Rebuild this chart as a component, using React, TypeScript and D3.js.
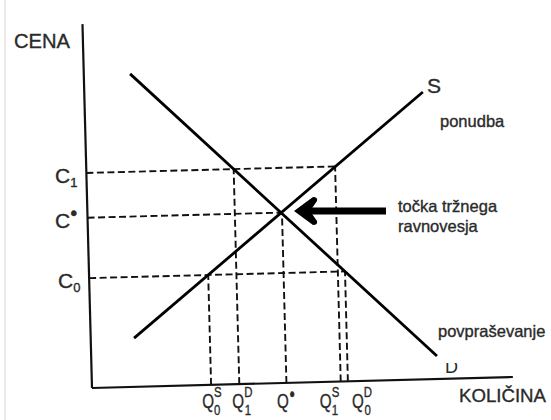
import React from "react";
import * as d3 from "d3";

// ---- data ----
const demandQ = [1.1, 8.21];
const demandP = [8.6, 0.63];
const supplyQ = [1.03, 8.04];
const supplyP = [1.34, 7.89];

const priceNames = ["C1", "C*", "C0"];
const priceLevels = [5.91, 4.68, 3.02];
const priceReach = [5.91, 4.62, 6.08]; // quantity where each dashed price line ends

const qtySup = ["S", "D", "•", "S", "D"];
const qtySub = ["0", "1", "", "1", "0"];
const qtyLevels = [2.83, 3.5, 4.62, 5.91, 6.08];
const qtyPrice = [3.02, 5.91, 4.68, 5.91, 3.02]; // price each dashed quantity line reaches

// ---- layout ----
const W = 551;
const H = 420;
const OX = 92;
const OY = 388;
const ROT = -1.5;
const qLabelDx = [-9, -7, -9.5, -21, 4];
const cLabelX = [55, 55, 58];

export default function App() {
  const x = d3.scaleLinear().domain([0, 10]).range([0, 421]);
  const y = d3.scaleLinear().domain([0, 10]).range([0, -364]);
  const line = d3
    .line<[number, number]>()
    .x((d) => x(d[0]))
    .y((d) => y(d[1]));
  const demand = demandQ.map((q, i) => [q, demandP[i]] as [number, number]);
  const supply = supplyQ.map((q, i) => [q, supplyP[i]] as [number, number]);
  const font = "'Liberation Sans', Arial, sans-serif";
  const txt = "#2a2a2a";
  const dash = "7 3.5";
  const thick = { stroke: txt, strokeWidth: 0.35 };

  return (
    <svg
      width={W}
      height={H}
      style={{ position: "absolute", left: 0, top: 0, background: "#fff" }}
      fontFamily={font}
    >
      <rect x={0} y={0} width={W} height={H} fill="#fff" />
      <line x1={5} y1={0} x2={5} y2={H} stroke="#ddd" strokeWidth={1.2} />

      <g transform={`translate(${OX},${OY}) rotate(${ROT})`}>
        {/* dashed guides */}
        {priceLevels.map((p, i) => (
          <line
            key={"h" + i}
            x1={x(0)}
            x2={x(priceReach[i])}
            y1={y(p)}
            y2={y(p)}
            stroke="#111"
            strokeWidth={1.9}
            strokeDasharray={dash}
          />
        ))}
        {qtyLevels.map((q, i) => (
          <line
            key={"v" + i}
            x1={x(q)}
            x2={x(q)}
            y1={y(0)}
            y2={y(qtyPrice[i])}
            stroke="#111"
            strokeWidth={1.9}
            strokeDasharray={dash}
          />
        ))}
        {/* axes */}
        <line x1={x(0)} y1={y(0)} x2={x(0)} y2={y(10)} stroke="#111" strokeWidth={2.2} />
        <line x1={x(0)} y1={y(0)} x2={x(10)} y2={y(0)} stroke="#111" strokeWidth={2.2} />
        {/* curves */}
        <path d={line(demand) || ""} fill="none" stroke="#000" strokeWidth={2.8} />
        <path d={line(supply) || ""} fill="none" stroke="#000" strokeWidth={2.8} />
      </g>

      {/* price labels */}
      {priceNames.map((n, i) => {
        const yy = OY + y(priceLevels[i]) + 10;
        const xx = cLabelX[i];
        const suffix = n.slice(1);
        return (
          <text key={"c" + i} x={xx} y={yy} fontSize={21} fill={txt} {...thick}>
            C
            {suffix === "*" ? (
              <tspan dy={-8} fontSize={20}>•</tspan>
            ) : (
              <tspan dy={4} fontSize={13}>{suffix}</tspan>
            )}
          </text>
        );
      })}

      {/* quantity labels */}
      {qtyLevels.map((q, i) => {
        const xx = OX + x(q) + qLabelDx[i];
        return (
          <text
            key={"q" + i}
            transform={`translate(${xx},408) scale(0.76,1)`}
            fontSize={20}
            fill={txt}
            {...thick}
          >
            Q
            {qtySup[i] === "•" ? (
              <tspan dx={1} dy={-7} fontSize={20}>•</tspan>
            ) : (
              <tspan dy={-11} fontSize={15}>{qtySup[i]}</tspan>
            )}
            {qtySub[i] && (
              <tspan dx={-10} dy={18} fontSize={15}>{qtySub[i]}</tspan>
            )}
          </text>
        );
      })}

      {/* axis titles */}
      <text x={14} y={48} fontSize={21} fill={txt} {...thick} textLength={56} lengthAdjust="spacingAndGlyphs">
        CENA
      </text>
      <text x={459} y={402} fontSize={19} fill={txt} {...thick} textLength={87} lengthAdjust="spacingAndGlyphs">
        KOLIČINA
      </text>

      {/* curve names */}
      <text x={427} y={93} fontSize={21} fill={txt} {...thick}>S</text>
      <text x={440} y={127} fontSize={16.5} fill={txt} {...thick}>ponudba</text>
      <text x={438} y={337} fontSize={16.5} fill={txt} {...thick}>povpraševanje</text>
      <clipPath id="dclip">
        <rect x={440} y={363} width={30} height={15} />
      </clipPath>
      <text x={445} y={373} fontSize={18} fill={txt} clipPath="url(#dclip)">D</text>

      {/* equilibrium annotation */}
      <rect x={305} y={207.5} width={81} height={7} fill="#000" />
      <path
        d="M294,211 L313,197 Q318,197 317,201 L310,211 L317,221 Q318,225 313,225 Z"
        fill="#000"
      />
      <text x={398} y={212} fontSize={16.5} fill={txt} {...thick}>točka tržnega</text>
      <text x={398} y={232} fontSize={16.5} fill={txt} {...thick}>ravnovesja</text>
    </svg>
  );
}
